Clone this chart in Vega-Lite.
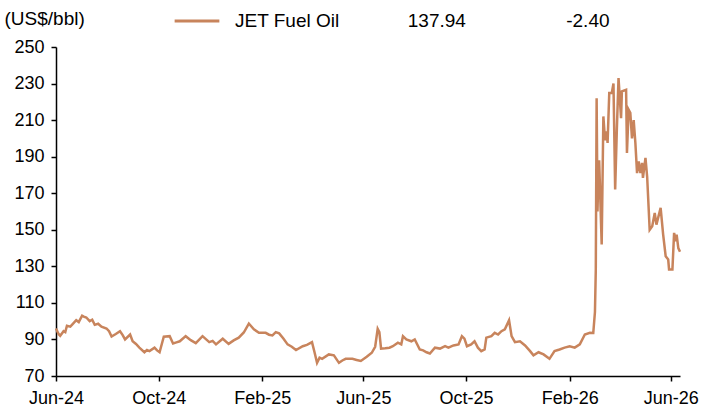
{
  "$schema": "https://vega.github.io/schema/vega-lite/v6.json",
  "width": 624,
  "height": 329,
  "autosize": {"type": "none"},
  "padding": {"left": 56, "top": 47, "right": 23, "bottom": 38},
  "background": "white",
  "config": {
    "view": {"stroke": null},
    "font": "Liberation Sans",
    "axis": {"grid": false, "domainColor": "black", "domainWidth": 1.5, "tickColor": "black", "tickWidth": 1.5, "tickSize": 5, "labelColor": "black", "labelFontSize": 18, "labelFont": "Liberation Sans"}
  },
  "data": {"values": [
    {"date": "2024-06-01", "price": 96},
    {"date": "2024-06-04", "price": 93},
    {"date": "2024-06-06", "price": 92},
    {"date": "2024-06-10", "price": 94.5},
    {"date": "2024-06-12", "price": 94},
    {"date": "2024-06-14", "price": 97.5},
    {"date": "2024-06-18", "price": 97},
    {"date": "2024-06-21", "price": 98.5},
    {"date": "2024-06-25", "price": 100.5},
    {"date": "2024-06-28", "price": 99.5},
    {"date": "2024-07-02", "price": 103},
    {"date": "2024-07-04", "price": 102.5},
    {"date": "2024-07-07", "price": 102},
    {"date": "2024-07-11", "price": 100},
    {"date": "2024-07-14", "price": 100.8},
    {"date": "2024-07-17", "price": 98},
    {"date": "2024-07-21", "price": 98.6},
    {"date": "2024-07-25", "price": 97},
    {"date": "2024-07-31", "price": 96},
    {"date": "2024-08-03", "price": 94.5},
    {"date": "2024-08-06", "price": 91.6},
    {"date": "2024-08-11", "price": 93},
    {"date": "2024-08-16", "price": 94.5},
    {"date": "2024-08-19", "price": 92.5},
    {"date": "2024-08-22", "price": 90},
    {"date": "2024-08-28", "price": 92.7},
    {"date": "2024-08-31", "price": 89},
    {"date": "2024-09-04", "price": 87.5},
    {"date": "2024-09-08", "price": 85.5},
    {"date": "2024-09-14", "price": 83},
    {"date": "2024-09-17", "price": 84.2},
    {"date": "2024-09-20", "price": 83.6},
    {"date": "2024-09-26", "price": 85.5},
    {"date": "2024-09-29", "price": 84},
    {"date": "2024-10-02", "price": 83},
    {"date": "2024-10-07", "price": 91.5},
    {"date": "2024-10-14", "price": 91.8},
    {"date": "2024-10-18", "price": 87.8},
    {"date": "2024-10-22", "price": 88.4},
    {"date": "2024-10-26", "price": 89},
    {"date": "2024-11-02", "price": 91.8},
    {"date": "2024-11-08", "price": 89.6},
    {"date": "2024-11-14", "price": 88},
    {"date": "2024-11-22", "price": 91.8},
    {"date": "2024-11-30", "price": 88.5},
    {"date": "2024-12-04", "price": 89.2},
    {"date": "2024-12-08", "price": 87.3},
    {"date": "2024-12-16", "price": 90.4},
    {"date": "2024-12-23", "price": 87.6},
    {"date": "2024-12-29", "price": 89.5},
    {"date": "2025-01-04", "price": 91},
    {"date": "2025-01-10", "price": 93.8},
    {"date": "2025-01-16", "price": 98.7},
    {"date": "2025-01-22", "price": 95.5},
    {"date": "2025-01-28", "price": 93.6},
    {"date": "2025-02-05", "price": 93.6},
    {"date": "2025-02-09", "price": 92.6},
    {"date": "2025-02-13", "price": 92.2},
    {"date": "2025-02-17", "price": 94},
    {"date": "2025-02-21", "price": 93.3},
    {"date": "2025-02-26", "price": 90.5},
    {"date": "2025-03-03", "price": 87.3},
    {"date": "2025-03-08", "price": 86},
    {"date": "2025-03-13", "price": 84.2},
    {"date": "2025-03-21", "price": 86.3},
    {"date": "2025-03-26", "price": 87},
    {"date": "2025-04-01", "price": 88.5},
    {"date": "2025-04-04", "price": 83},
    {"date": "2025-04-07", "price": 77.2},
    {"date": "2025-04-10", "price": 80},
    {"date": "2025-04-13", "price": 79.4},
    {"date": "2025-04-21", "price": 81.8},
    {"date": "2025-04-27", "price": 81.3},
    {"date": "2025-05-03", "price": 77.2},
    {"date": "2025-05-07", "price": 78.5},
    {"date": "2025-05-11", "price": 79.4},
    {"date": "2025-05-19", "price": 79.4},
    {"date": "2025-05-24", "price": 78.8},
    {"date": "2025-05-29", "price": 78.2},
    {"date": "2025-06-05", "price": 80.5},
    {"date": "2025-06-11", "price": 82.7},
    {"date": "2025-06-15", "price": 86},
    {"date": "2025-06-18", "price": 95.8},
    {"date": "2025-06-20", "price": 94},
    {"date": "2025-06-22", "price": 85},
    {"date": "2025-06-27", "price": 85.2},
    {"date": "2025-07-02", "price": 85.5},
    {"date": "2025-07-06", "price": 86.3},
    {"date": "2025-07-12", "price": 88.2},
    {"date": "2025-07-16", "price": 87.3},
    {"date": "2025-07-18", "price": 91.8},
    {"date": "2025-07-22", "price": 90},
    {"date": "2025-07-28", "price": 89},
    {"date": "2025-08-01", "price": 90},
    {"date": "2025-08-07", "price": 84.5},
    {"date": "2025-08-11", "price": 84},
    {"date": "2025-08-15", "price": 83},
    {"date": "2025-08-19", "price": 82.3},
    {"date": "2025-08-25", "price": 85.5},
    {"date": "2025-08-31", "price": 85},
    {"date": "2025-09-06", "price": 86.3},
    {"date": "2025-09-10", "price": 85.5},
    {"date": "2025-09-16", "price": 86.7},
    {"date": "2025-09-22", "price": 87.3},
    {"date": "2025-09-26", "price": 91.8},
    {"date": "2025-09-29", "price": 90.4},
    {"date": "2025-10-02", "price": 86.3},
    {"date": "2025-10-07", "price": 87.3},
    {"date": "2025-10-11", "price": 89},
    {"date": "2025-10-15", "price": 85.5},
    {"date": "2025-10-19", "price": 83.6},
    {"date": "2025-10-23", "price": 84.5},
    {"date": "2025-10-25", "price": 91},
    {"date": "2025-10-31", "price": 91.8},
    {"date": "2025-11-04", "price": 93.6},
    {"date": "2025-11-08", "price": 92.7},
    {"date": "2025-11-12", "price": 94.5},
    {"date": "2025-11-16", "price": 95.5},
    {"date": "2025-11-21", "price": 100.5},
    {"date": "2025-11-24", "price": 91.8},
    {"date": "2025-11-28", "price": 88.5},
    {"date": "2025-12-04", "price": 89},
    {"date": "2025-12-10", "price": 86.7},
    {"date": "2025-12-16", "price": 83.6},
    {"date": "2025-12-20", "price": 81.3},
    {"date": "2025-12-26", "price": 83},
    {"date": "2026-01-01", "price": 81.8},
    {"date": "2026-01-08", "price": 79.4},
    {"date": "2026-01-14", "price": 83.6},
    {"date": "2026-01-20", "price": 84.5},
    {"date": "2026-01-26", "price": 85.5},
    {"date": "2026-02-01", "price": 86.3},
    {"date": "2026-02-07", "price": 85.5},
    {"date": "2026-02-13", "price": 87.3},
    {"date": "2026-02-19", "price": 92.7},
    {"date": "2026-02-25", "price": 93.6},
    {"date": "2026-03-01", "price": 93.5},
    {"date": "2026-03-03", "price": 105},
    {"date": "2026-03-04", "price": 128},
    {"date": "2026-03-05", "price": 222},
    {"date": "2026-03-06", "price": 160},
    {"date": "2026-03-07", "price": 178},
    {"date": "2026-03-08", "price": 188},
    {"date": "2026-03-11", "price": 142},
    {"date": "2026-03-13", "price": 212},
    {"date": "2026-03-15", "price": 199},
    {"date": "2026-03-17", "price": 203.8},
    {"date": "2026-03-18", "price": 197.5},
    {"date": "2026-03-20", "price": 224.8},
    {"date": "2026-03-23", "price": 224.8},
    {"date": "2026-03-25", "price": 230},
    {"date": "2026-03-27", "price": 172},
    {"date": "2026-03-29", "price": 204.8},
    {"date": "2026-03-31", "price": 233},
    {"date": "2026-04-03", "price": 211},
    {"date": "2026-04-04", "price": 225.7},
    {"date": "2026-04-09", "price": 226.6},
    {"date": "2026-04-10", "price": 192},
    {"date": "2026-04-12", "price": 215.7},
    {"date": "2026-04-14", "price": 214},
    {"date": "2026-04-16", "price": 200},
    {"date": "2026-04-18", "price": 210},
    {"date": "2026-04-20", "price": 197.5},
    {"date": "2026-04-22", "price": 181},
    {"date": "2026-04-24", "price": 187.4},
    {"date": "2026-04-26", "price": 181},
    {"date": "2026-04-28", "price": 186.6},
    {"date": "2026-04-29", "price": 178.4},
    {"date": "2026-05-02", "price": 189.3},
    {"date": "2026-05-04", "price": 179},
    {"date": "2026-05-07", "price": 150},
    {"date": "2026-05-10", "price": 151.9},
    {"date": "2026-05-13", "price": 159.2},
    {"date": "2026-05-15", "price": 152.8},
    {"date": "2026-05-20", "price": 162},
    {"date": "2026-05-23", "price": 147.4},
    {"date": "2026-05-26", "price": 135.5},
    {"date": "2026-05-29", "price": 133.7},
    {"date": "2026-05-30", "price": 128.3},
    {"date": "2026-06-03", "price": 128.3},
    {"date": "2026-06-05", "price": 148.3},
    {"date": "2026-06-07", "price": 143.7},
    {"date": "2026-06-08", "price": 147.4},
    {"date": "2026-06-10", "price": 140},
    {"date": "2026-06-12", "price": 137.94}
  ]},
  "mark": {"type": "line", "strokeWidth": 2.5, "interpolate": "linear"},
  "encoding": {
    "x": {
      "field": "date", "type": "temporal",
      "scale": {"type": "utc", "domain": [{"year": 2024, "month": 6, "date": 1, "utc": true}, {"year": 2026, "month": 6, "date": 12, "utc": true}]},
      "axis": {
        "title": null, "format": "%b-%y", "labelPadding": 8, "labelFlush": false, "labelOverlap": false,
        "values": [
          {"year": 2024, "month": 6, "date": 1, "utc": true},
          {"year": 2024, "month": 10, "date": 1, "utc": true},
          {"year": 2025, "month": 2, "date": 1, "utc": true},
          {"year": 2025, "month": 6, "date": 1, "utc": true},
          {"year": 2025, "month": 10, "date": 1, "utc": true},
          {"year": 2026, "month": 2, "date": 1, "utc": true},
          {"year": 2026, "month": 6, "date": 1, "utc": true}
        ]
      }
    },
    "y": {
      "field": "price", "type": "quantitative",
      "scale": {"domain": [70, 250], "nice": false, "zero": false},
      "axis": {
        "values": [70, 90, 110, 130, 150, 170, 190, 210, 230, 250],
        "labelPadding": 7,
        "title": "(US$/bbl)", "titleAngle": 0, "titleAlign": "left", "titleBaseline": "middle",
        "titleX": -52, "titleY": -29, "titleFontSize": 19, "titleFontWeight": "normal", "titleFont": "Liberation Sans", "titleColor": "black"
      }
    },
    "color": {
      "datum": "JET Fuel Oil",
      "scale": {"range": ["#C8845C"]},
      "legend": {
        "title": null, "orient": "none", "legendX": 117, "legendY": -50,
        "symbolType": "stroke", "symbolSize": 2000, "symbolStrokeWidth": 3,
        "labelFontSize": 19, "labelFont": "Liberation Sans", "labelColor": "black", "labelLimit": 600, "labelOffset": 14,
        "labelExpr": "datum.label + '\u00a0\u00a0\u00a0\u00a0\u00a0\u00a0\u00a0\u00a0\u00a0\u00a0\u00a0\u00a0\u00a0137.94\u00a0\u00a0\u00a0\u00a0\u00a0\u00a0\u00a0\u00a0\u00a0\u00a0\u00a0\u00a0\u00a0\u00a0\u00a0\u00a0\u00a0\u00a0\u00a0-2.40'",
        "encode": {"symbols": {"update": {"stroke": {"value": "#D9541E"}}}}
      }
    }
  }
}
